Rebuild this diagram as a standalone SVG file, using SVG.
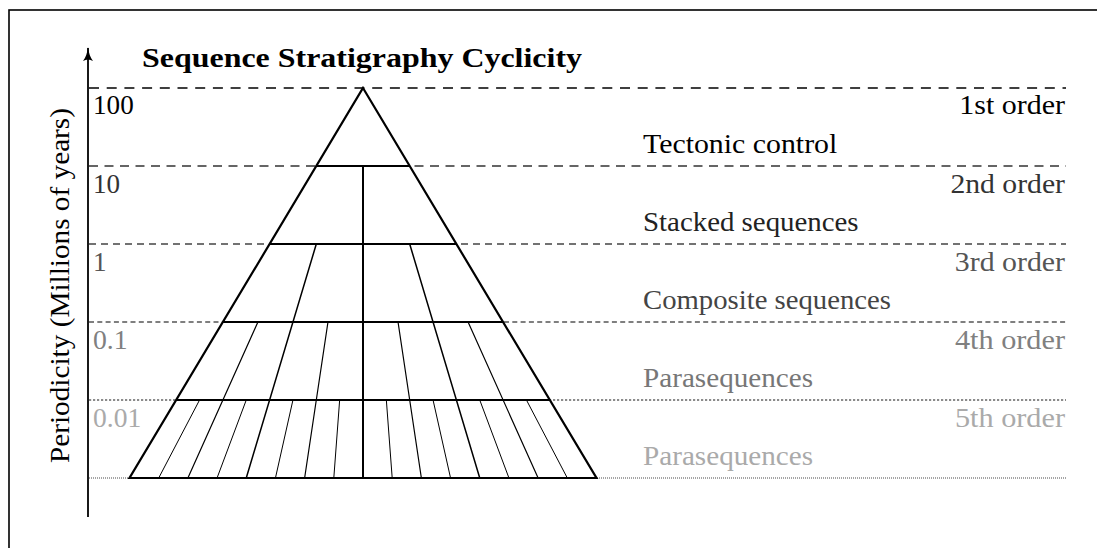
<svg xmlns="http://www.w3.org/2000/svg" width="1097" height="548" viewBox="0 0 1097 548">
<style>
text{font-family:"Liberation Serif","Times New Roman",serif;font-size:27px}
.title{font-weight:bold}
.r{text-anchor:end}
.py{fill:none;stroke:#000;stroke-linecap:butt}
</style>
<defs>
<marker id="ah" viewBox="0 0 14 10" refX="13" refY="5" markerWidth="14" markerHeight="10" markerUnits="userSpaceOnUse" orient="auto">
<path d="M0,0 Q5,4 14,5 Q5,6 0,10 Q3,5 0,0 Z" fill="#000"/>
</marker>
</defs>
<rect width="1097" height="548" fill="#fff"/>
<g id="frame"><rect x="9" y="10" width="1200" height="700" fill="none" stroke="#000" stroke-width="1.6"/></g>
<g id="levels" fill="none">
<line x1="89" y1="88" x2="1066" y2="88" stroke="#000" stroke-width="1.3" stroke-dasharray="10 7.7"/>
<line x1="89" y1="166" x2="1066" y2="166" stroke="#333" stroke-width="1.3" stroke-dasharray="9 6.5"/>
<line x1="89" y1="244" x2="1066" y2="244" stroke="#444" stroke-width="1.3" stroke-dasharray="7 5"/>
<line x1="89" y1="322" x2="1066" y2="322" stroke="#555" stroke-width="1.3" stroke-dasharray="5 3.3"/>
<line x1="89" y1="400" x2="1066" y2="400" stroke="#666" stroke-width="1.3" stroke-dasharray="2.2 1.8"/>
<line x1="89" y1="478" x2="1066" y2="478" stroke="#888" stroke-width="1.3" stroke-dasharray="1 1"/>
</g>
<g id="axis">
<line x1="88" y1="517" x2="88" y2="48" stroke="#000" stroke-width="1.8" marker-end="url(#ah)"/>
<text transform="translate(69,285.5) rotate(-90)" text-anchor="middle" textLength="355" lengthAdjust="spacingAndGlyphs">Periodicity (Millions of years)</text>
</g>
<g id="title"><text class="title" x="142" y="67" textLength="440" lengthAdjust="spacingAndGlyphs">Sequence Stratigraphy Cyclicity</text></g>
<g id="pyramid">
<line class="py" x1="363" y1="166" x2="363" y2="478" stroke-width="2"/>
<path class="py" stroke-width="1.5" d="M316.3,244 L246.25,478 M409.7,244 L479.75,478"/>
<path class="py" stroke-width="1.2" d="M327.97,322 L304.63,478 M398.03,322 L421.37,478 M257.92,322 L187.88,478 M468.08,322 L538.12,478"/>
<path class="py" stroke-width="1" d="M339.65,400 L333.81,478 M386.35,400 L392.19,478 M292.95,400 L275.44,478 M433.05,400 L450.56,478 M246.25,400 L217.06,478 M479.75,400 L508.94,478 M199.55,400 L158.69,478 M526.45,400 L567.31,478"/>
<path class="py" stroke-width="2" d="M316.3,166 H409.7 M269.6,244 H456.4 M222.9,322 H503.1 M176.2,400 H549.8"/>
<path class="py" stroke-width="2.2" stroke-linejoin="miter" d="M363,88 L596.5,478 L129.5,478 Z"/>
</g>
<g id="level1">
<text x="93" y="114" textLength="40.7" lengthAdjust="spacingAndGlyphs">100</text>
<text class="r" x="1065" y="114" textLength="105.7" lengthAdjust="spacingAndGlyphs">1st order</text>
<text x="643" y="152.7" textLength="194.3" lengthAdjust="spacingAndGlyphs">Tectonic control</text>
</g>
<g id="level2" fill="#333">
<text x="93" y="192.5" textLength="27.1" lengthAdjust="spacingAndGlyphs">10</text>
<text class="r" x="1065" y="192.5" textLength="114.6" lengthAdjust="spacingAndGlyphs">2nd order</text>
<text x="643" y="230.5" textLength="215.6" lengthAdjust="spacingAndGlyphs" fill="#222">Stacked sequences</text>
</g>
<g id="level3" fill="#555">
<text x="93" y="270.5" textLength="13.6" lengthAdjust="spacingAndGlyphs">1</text>
<text class="r" x="1065" y="270.5" textLength="110.2" lengthAdjust="spacingAndGlyphs">3rd order</text>
<text x="643" y="308.5" textLength="248" lengthAdjust="spacingAndGlyphs" fill="#444">Composite sequences</text>
</g>
<g id="level4" fill="#808080">
<text x="93" y="348.5" textLength="34.6" lengthAdjust="spacingAndGlyphs">0.1</text>
<text class="r" x="1065" y="348.5" textLength="110.1" lengthAdjust="spacingAndGlyphs">4th order</text>
<text x="643" y="386.8" textLength="170.1" lengthAdjust="spacingAndGlyphs" fill="#777">Parasequences</text>
</g>
<g id="level5" fill="#aaa">
<text x="93" y="426.5" textLength="48.2" lengthAdjust="spacingAndGlyphs">0.01</text>
<text class="r" x="1065" y="426.5" textLength="110.1" lengthAdjust="spacingAndGlyphs">5th order</text>
<text x="643" y="465" textLength="170.1" lengthAdjust="spacingAndGlyphs">Parasequences</text>
</g>
</svg>
